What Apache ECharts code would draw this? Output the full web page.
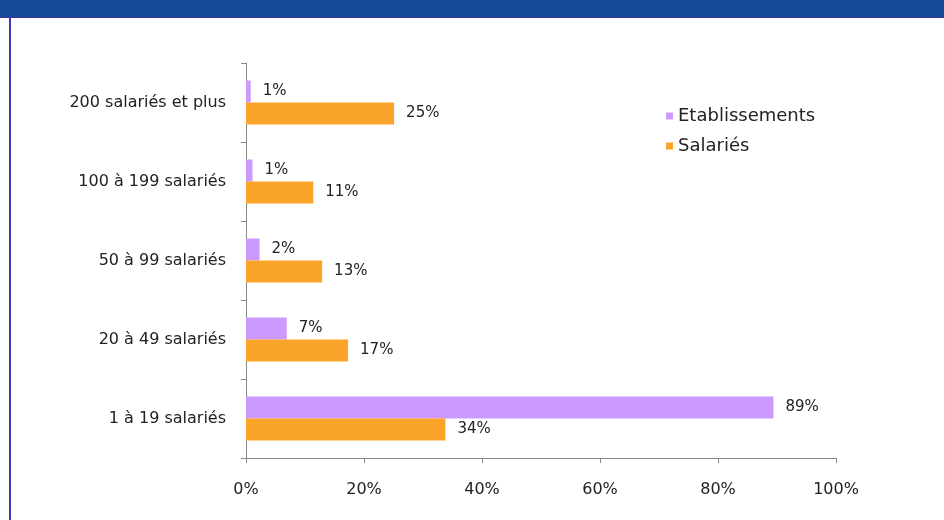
<!DOCTYPE html>
<html>
<head>
<meta charset="utf-8">
<script src="https://cdn.jsdelivr.net/npm/echarts@6/dist/echarts.min.js"></script>
<style>
  html, body { margin: 0; padding: 0; background: #fff; }
  #chart { width: 944px; height: 520px; }
</style>
</head>
<body>
<div id="chart"></div>
<script>
// catégories de bas en haut (axe catégorie vertical)
const categories = ["1 à 19 salariés", "20 à 49 salariés", "50 à 99 salariés", "100 à 199 salariés", "200 salariés et plus"];
const etablissements = [89.4, 6.9, 2.3, 1.1, 0.8];
const salaries = [33.8, 17.3, 12.9, 11.4, 25.1];
const xTicks = [0, 20, 40, 60, 80, 100];

const chart = echarts.init(document.getElementById("chart"));

const labelStyle = {
  show: true,
  position: "right",
  distance: 12,
  color: "#222",
  fontSize: 15,
  fontFamily: "DejaVu Sans",
  formatter: (p) => Math.round(p.value) + "%",
};

const option = {
  animation: false,
  backgroundColor: "#fff",
  textStyle: { fontFamily: "DejaVu Sans" },
  graphic: [
    // bandeau du titre (coupé en haut)
    { type: "rect", shape: { x: 0, y: 0, width: 944, height: 17 }, style: { fill: "#174a97" }, silent: true },
    { type: "rect", shape: { x: 0, y: 17, width: 944, height: 1 }, style: { fill: "#3b2f99" }, silent: true },
    // bord gauche
    { type: "rect", shape: { x: 9, y: 17, width: 2, height: 503 }, style: { fill: "#3c3cb4" }, silent: true },
  ],
  legend: {
    data: ["Etablissements", "Salariés"],
    orient: "vertical",
    left: 666,
    top: 107,
    padding: 0,
    icon: "rect",
    itemWidth: 7,
    itemHeight: 7,
    itemGap: 12,
    textStyle: { fontSize: 18, color: "#222", fontFamily: "DejaVu Sans" },
  },
  grid: { left: 246, right: 108, top: 63, bottom: 62, containLabel: false },
  xAxis: {
    type: "value",
    min: 0,
    max: 100,
    interval: 20,
    axisLine: { show: true, lineStyle: { color: "#888", width: 1 } },
    axisTick: { show: true, length: 5, lineStyle: { color: "#888" } },
    splitLine: { show: false },
    axisLabel: {
      color: "#222",
      fontSize: 16,
      margin: 24,
      formatter: (v) => (xTicks.includes(v) ? v + "%" : ""),
    },
  },
  yAxis: {
    type: "category",
    data: categories,
    axisLine: { show: true, lineStyle: { color: "#888", width: 1 } },
    axisTick: { show: true, length: 5, lineStyle: { color: "#888" } },
    axisLabel: { color: "#222", fontSize: 16, margin: 20 },
  },
  series: [
    {
      name: "Etablissements",
      type: "bar",
      data: etablissements,
      barWidth: 22,
      barGap: "0%",
      itemStyle: { color: "#cc99ff" },
      label: labelStyle,
    },
    {
      name: "Salariés",
      type: "bar",
      data: salaries,
      barWidth: 22,
      barGap: "0%",
      itemStyle: { color: "#fba42a" },
      label: labelStyle,
    },
  ],
};

chart.setOption(option);
</script>
</body>
</html>
